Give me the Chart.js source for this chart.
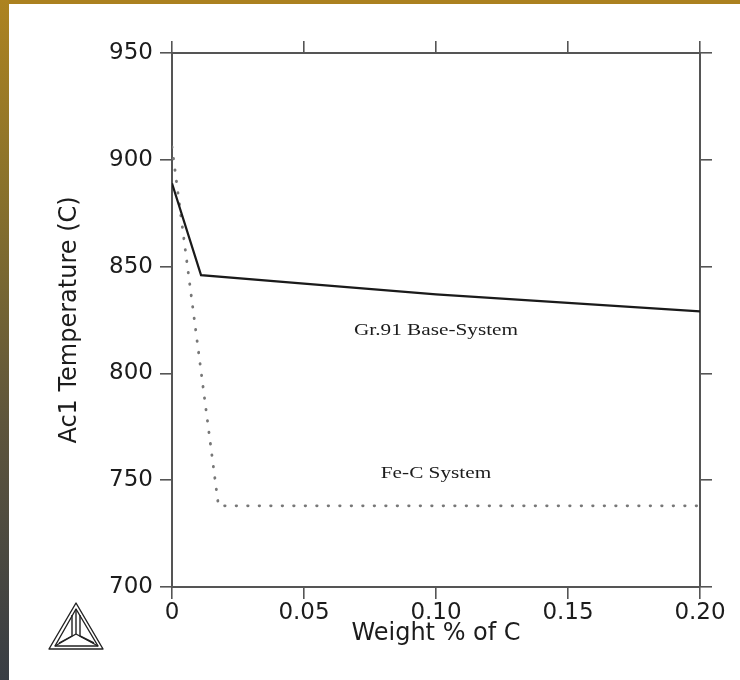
<!DOCTYPE html>
<html><head><meta charset="utf-8">
<script src="https://cdn.jsdelivr.net/npm/chart.js@4.4.1/dist/chart.umd.min.js"></script>
<style>
html,body{margin:0;padding:0;}
body{width:740px;height:680px;position:relative;overflow:hidden;background:#fff;}
#topbar{position:absolute;left:0;top:0;width:740px;height:4px;background:#ab811f;}
#leftbar{position:absolute;left:0;top:0;width:9px;height:680px;background:linear-gradient(#ad8320,#86702c 30%,#5e553c 62%,#383d44);}
#wrap{position:absolute;left:0;top:0;width:740px;height:680px;}
#logo{position:absolute;left:44px;top:598px;}
</style></head><body>
<div id="topbar"></div><div id="leftbar"></div>
<div id="wrap"><canvas id="c" width="740" height="680"></canvas></div>
<svg id="logo" width="66" height="56" viewBox="0 0 66 56">
  <g fill="none" stroke="#222" stroke-width="1.4" stroke-linejoin="round">
    <polygon points="32,5 5,51 59,51"/>
    <polygon points="32,11 11,48 54,48"/>
    <line x1="32" y1="11" x2="32" y2="36"/>
    <line x1="11" y1="48" x2="32" y2="36"/>
    <line x1="54" y1="48" x2="32" y2="36"/>
    <polyline points="28,17 28,38 15,45"/>
    <polyline points="36,17 36,38 50,45"/>
  </g>
</svg>
<script>
const xTickValues = [0, 0.05, 0.10, 0.15, 0.20];
const xTickLabels = ['0', '0.05', '0.10', '0.15', '0.20'];
const yTickValues = [700, 750, 800, 850, 900, 950];
const yTickLabels = ['700', '750', '800', '850', '900', '950'];
const gr91C = [0, 0.011, 0.05, 0.10, 0.15, 0.20];
const gr91T = [889, 846, 842, 837, 833, 829];
const feCC = [0, 0.0176, 0.20];
const feCT = [906, 738, 738];
const annotationTexts = ['Gr.91 Base-System', 'Fe-C System'];
const annotationC = [0.10, 0.10];
const annotationT = [820, 753];
const xTitle = 'Weight % of C';
const yTitle = 'Ac1 Temperature (C)';

const AXIS = '#555';
const TXT = '#1c1c1c';
const tickFont = {family: 'DejaVu Sans', size: 23};
const titleFont = {family: 'DejaVu Sans', size: 24, lineHeight: 1.2};

function fixed(prop, v){ return s => { s[prop] = v; }; }

const labelPlugin = {
  id: 'labels',
  afterDatasetsDraw(chart){
    const {ctx, scales:{x, y}} = chart;
    ctx.save();
    ctx.fillStyle = TXT;
    ctx.font = '17px "Liberation Serif"';
    ctx.textAlign = 'center';
    ctx.textBaseline = 'middle';
    annotationTexts.forEach((t, i) => {
      ctx.save();
      ctx.translate(x.getPixelForValue(annotationC[i]), y.getPixelForValue(annotationT[i]));
      ctx.scale(1.25, 1);
      ctx.fillText(t, 0, 0);
      ctx.restore();
    });
    ctx.restore();
  }
};

const gridOpts = {drawOnChartArea: false, drawTicks: true, tickLength: 12, color: AXIS, lineWidth: 1.6};
const borderOpts = {display: true, color: AXIS, width: 2};

new Chart(document.getElementById('c'), {
  type: 'scatter',
  data: {
    datasets: [
      {
        label: 'Gr.91 Base-System',
        data: gr91C.map((c, i) => ({x: c, y: gr91T[i]})),
        showLine: true, borderColor: '#1a1a1a', borderWidth: 2.2, pointRadius: 0, tension: 0
      },
      {
        label: 'Fe-C System',
        data: feCC.map((c, i) => ({x: c, y: feCT[i]})),
        showLine: true, borderColor: '#777', borderWidth: 2.8, borderDash: [0.5, 11],
        borderCapStyle: 'round', pointRadius: 0, tension: 0
      }
    ]
  },
  options: {
    responsive: false, animation: false, devicePixelRatio: 1,
    layout: {padding: 0},
    plugins: {legend: {display: false}, tooltip: {enabled: false}},
    scales: {
      x: {
        type: 'linear', position: 'bottom', min: 0, max: 0.2,
        afterBuildTicks: s => { s.ticks = xTickValues.map(v => ({value: v})); },
        ticks: {callback: (v, i) => xTickLabels[i], font: tickFont, color: TXT, padding: 0, maxRotation: 0, autoSkip: false},
        grid: gridOpts, border: borderOpts,
        title: {display: true, text: xTitle, font: titleFont, color: TXT, padding: {top: 0, bottom: 32}},
        afterFit: fixed('height', 93)
      },
      x2: {
        type: 'linear', position: 'top', min: 0, max: 0.2,
        afterBuildTicks: s => { s.ticks = xTickValues.map(v => ({value: v})); },
        ticks: {display: false},
        grid: gridOpts, border: borderOpts,
        afterFit: fixed('height', 53)
      },
      y: {
        type: 'linear', position: 'left', min: 700, max: 950,
        afterBuildTicks: s => { s.ticks = yTickValues.map(v => ({value: v})); },
        ticks: {callback: (v, i) => yTickLabels[i], font: tickFont, color: TXT, padding: 7, autoSkip: false},
        grid: gridOpts, border: borderOpts,
        title: {display: true, text: yTitle, font: titleFont, color: TXT, padding: {top: 55, bottom: 0}},
        afterFit: fixed('width', 172)
      },
      y2: {
        type: 'linear', position: 'right', min: 700, max: 950,
        afterBuildTicks: s => { s.ticks = yTickValues.map(v => ({value: v})); },
        ticks: {display: false},
        grid: gridOpts, border: borderOpts,
        afterFit: fixed('width', 40)
      }
    }
  },
  plugins: [labelPlugin]
});
</script>
</body></html>
